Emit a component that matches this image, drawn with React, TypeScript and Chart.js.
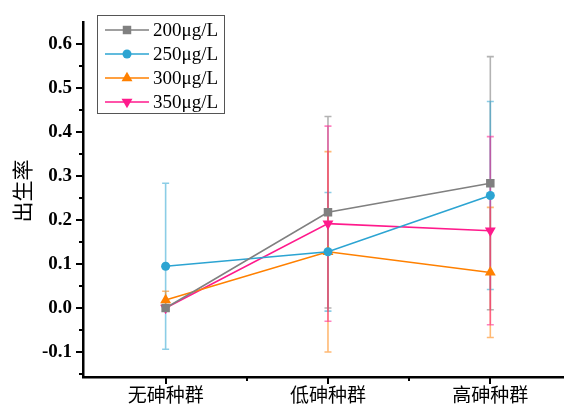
import React, { useEffect, useRef } from 'react';
import { Chart, registerables } from 'chart.js';

Chart.register(...registerables);

const categories = ['无砷种群', '低砷种群', '高砷种群'];
const seriesLabels = ['200μg/L', '250μg/L', '300μg/L', '350μg/L'];
const s200 = [0.0, 0.218, 0.284];
const e200 = [0.005, 0.218, 0.288];
const s250 = [0.095, 0.128, 0.256];
const e250 = [0.189, 0.135, 0.214];
const s300 = [0.018, 0.128, 0.081];
const e300 = [0.02, 0.228, 0.148];
const s350 = [0.0, 0.192, 0.176];
const e350 = [0.003, 0.222, 0.214];
const yTicks = [-0.1, 0.0, 0.1, 0.2, 0.3, 0.4, 0.5, 0.6];
const yMinorTicks = [-0.15, -0.05, 0.05, 0.15, 0.25, 0.35, 0.45, 0.55];
const xMinorTicks = [0.5, 1.5];
const yTitle = '出生率';

const colors = ['#808080', '#2ca4d2', '#ff8000', '#ff1a8c'];
const errColors = ['rgba(128,128,128,0.6)', 'rgba(44,164,210,0.55)', 'rgba(255,128,0,0.55)', 'rgba(255,26,140,0.55)'];
const pointStyles = ['rect', 'circle', 'triangle', 'triangle'];
const rotations = [0, 0, 0, 180];
const radii = [6, 4.5, 6.3, 6.3];

const values = [s200, s250, s300, s350];
const errors = [e200, e250, e300, e350];

function drawMarker(ctx: CanvasRenderingContext2D, style: string, rot: number, x: number, y: number, r: number, color: string) {
  ctx.save();
  ctx.fillStyle = color;
  ctx.beginPath();
  if (style === 'rect') {
    const s = r * Math.SQRT1_2;
    ctx.rect(x - s, y - s, 2 * s, 2 * s);
  } else if (style === 'circle') {
    ctx.arc(x, y, r, 0, Math.PI * 2);
  } else {
    const dir = rot === 180 ? -1 : 1;
    ctx.moveTo(x, y - dir * r);
    ctx.lineTo(x - r * 0.866, y + dir * r * 0.5);
    ctx.lineTo(x + r * 0.866, y + dir * r * 0.5);
    ctx.closePath();
  }
  ctx.fill();
  ctx.restore();
}

const errorBarPlugin = {
  id: 'errorBars',
  beforeDatasetsDraw(chart: any) {
    const ctx = chart.ctx;
    const xs = chart.scales.x;
    const ys = chart.scales.y;
    ctx.save();
    ctx.lineWidth = 1.6;
    errors.forEach((errs, di) => {
      ctx.strokeStyle = errColors[di];
      errs.forEach((e, i) => {
        const v = values[di][i];
        const x = xs.getPixelForValue(i);
        const yt = ys.getPixelForValue(v + e);
        const yb = ys.getPixelForValue(v - e);
        ctx.beginPath();
        ctx.moveTo(x, yt);
        ctx.lineTo(x, yb);
        ctx.moveTo(x - 3.5, yt);
        ctx.lineTo(x + 3.5, yt);
        ctx.moveTo(x - 3.5, yb);
        ctx.lineTo(x + 3.5, yb);
        ctx.stroke();
      });
    });
    ctx.restore();
  },
};

const axisPlugin = {
  id: 'axisTicks',
  afterDraw(chart: any) {
    const ctx = chart.ctx;
    const xs = chart.scales.x;
    const ys = chart.scales.y;
    const { left, bottom } = chart.chartArea;
    ctx.save();
    ctx.strokeStyle = '#000';
    ctx.lineWidth = 2;
    ctx.beginPath();
    yTicks.forEach((v) => {
      const y = Math.round(ys.getPixelForValue(v));
      ctx.moveTo(left, y);
      ctx.lineTo(left - 7, y);
    });
    yMinorTicks.forEach((v) => {
      const y = Math.round(ys.getPixelForValue(v));
      ctx.moveTo(left, y);
      ctx.lineTo(left - 4, y);
    });
    categories.forEach((_, i) => {
      const x = Math.round(xs.getPixelForValue(i));
      ctx.moveTo(x, bottom);
      ctx.lineTo(x, bottom + 7);
    });
    xMinorTicks.forEach((v) => {
      const x = Math.round(xs.getPixelForValue(v));
      ctx.moveTo(x, bottom);
      ctx.lineTo(x, bottom + 4);
    });
    ctx.stroke();

    // y title
    ctx.fillStyle = '#000';
    ctx.font = '21px "Noto Sans CJK SC"';
    ctx.textAlign = 'center';
    ctx.textBaseline = 'middle';
    ctx.translate(22, 191);
    ctx.rotate(-Math.PI / 2);
    ctx.fillText(yTitle, 0, 0);
    ctx.restore();

    // legend
    ctx.save();
    const bx = 97, by = 15, bw = 127, bh = 98;
    ctx.strokeStyle = '#555';
    ctx.lineWidth = 1;
    ctx.strokeRect(bx + 0.5, by + 0.5, bw, bh);
    ctx.font = '19px "Liberation Serif"';
    ctx.textAlign = 'left';
    ctx.textBaseline = 'middle';
    seriesLabels.forEach((lab, i) => {
      const y = 30 + i * 24;
      ctx.strokeStyle = colors[i];
      ctx.lineWidth = 1.6;
      ctx.beginPath();
      ctx.moveTo(105, y);
      ctx.lineTo(149, y);
      ctx.stroke();
      drawMarker(ctx, pointStyles[i], rotations[i], 127, y, radii[i], colors[i]);
      ctx.fillStyle = '#000';
      ctx.fillText(lab, 153, y + 1);
    });
    ctx.restore();
  },
};

export default function App() {
  const ref = useRef<HTMLCanvasElement>(null);
  useEffect(() => {
    if (!ref.current) return;
    const chart = new Chart(ref.current, {
      type: 'line',
      data: {
        datasets: values.map((vals, di) => ({
          label: seriesLabels[di],
          data: vals.map((v, i) => ({ x: i, y: v })),
          borderColor: colors[di],
          backgroundColor: colors[di],
          borderWidth: 1.6,
          pointStyle: pointStyles[di] as any,
          rotation: rotations[di],
          pointRadius: radii[di],
          pointBorderWidth: 0,
          fill: false,
          tension: 0,
        })),
      },
      options: {
        animation: false,
        responsive: false,
        layout: { padding: { top: 10, left: 0, right: 0, bottom: 0 } },
        plugins: { legend: { display: false }, tooltip: { enabled: false } },
        scales: {
          x: {
            type: 'linear',
            min: -0.509,
            max: 2.452,
            grid: { display: false, drawTicks: false },
            border: { display: true, color: '#000', width: 2.5 },
            afterBuildTicks: (scale: any) => {
              scale.ticks = categories.map((_, i) => ({ value: i }));
            },
            afterFit: (scale: any) => {
              scale.height = 29;
            },
            ticks: {
              padding: 6,
              color: '#000',
              font: { family: '"Noto Sans CJK SC"', size: 19 },
              callback: (v: any) => categories[Math.round(Number(v))] ?? '',
              maxRotation: 0,
              autoSkip: false,
            },
          },
          y: {
            type: 'linear',
            min: -0.157,
            max: 0.65,
            grid: { display: false, drawTicks: false },
            border: { display: true, color: '#000', width: 2.5 },
            afterBuildTicks: (scale: any) => {
              scale.ticks = yTicks.map((v) => ({ value: v }));
            },
            afterFit: (scale: any) => {
              scale.width = 83;
            },
            ticks: {
              padding: 11,
              color: '#000',
              font: { family: '"Liberation Serif"', size: 19, weight: 'bold' },
              callback: (v: any) => Number(v).toFixed(1),
            },
          },
        },
      },
      plugins: [errorBarPlugin, axisPlugin],
    });
    return () => chart.destroy();
  }, []);
  return (
    <div style={{ position: 'absolute', left: 0, top: 0, width: 570, height: 406, background: '#fff' }}>
      <canvas ref={ref} width={570} height={406} style={{ width: 570, height: 406 }} />
    </div>
  );
}
